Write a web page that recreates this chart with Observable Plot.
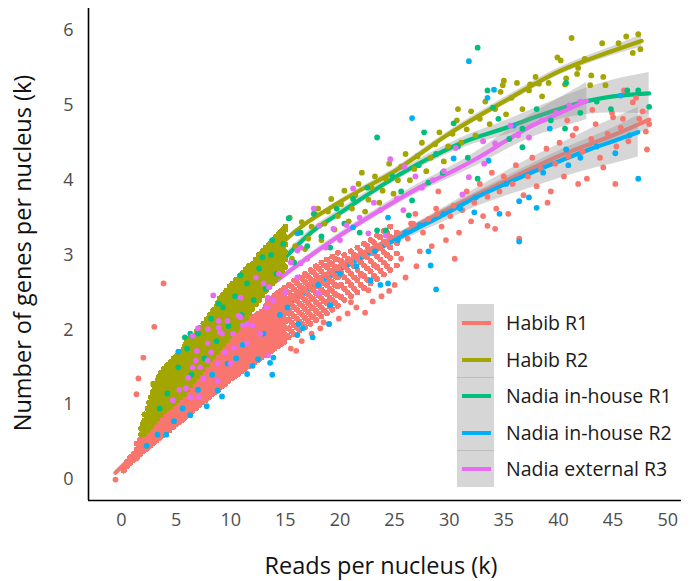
<!DOCTYPE html>
<html><head><meta charset="utf-8">
<script src="https://cdn.jsdelivr.net/npm/d3@7"></script>
<script src="https://cdn.jsdelivr.net/npm/@observablehq/plot@0.6"></script>
<style>
body{margin:0;background:#fff;font-family:"Open Sans",sans-serif;}
#wrap{position:relative;width:694px;height:581px;overflow:hidden;}
#wrap svg{position:absolute;left:0;top:0;}
.title{position:absolute;font-size:23.5px;line-height:1.1;color:#111;white-space:nowrap;}
#xtitle{left:381px;top:566px;transform:translate(-50%,-50%);}
#ytitle{left:23px;top:253px;transform:translate(-50%,-50%) rotate(-90deg);}
#legbox{position:absolute;left:457px;top:304px;width:37px;height:183px;background:#d6d6d6;}
.sep{position:absolute;left:457px;width:37px;height:1px;background:#bdbdbd;}
.key{position:absolute;left:462px;width:29px;height:4px;}
.lab{position:absolute;left:506px;font-size:19.5px;line-height:1.2;color:#1a1a1a;white-space:nowrap;transform:translateY(-50%);}
</style></head><body><div id="wrap"></div>
<script>
const series = ["Habib R1","Habib R2","Nadia in-house R1","Nadia in-house R2","Nadia external R3"];
const colors = ["#F8766D","#A3A500","#00BF7D","#00B0F6","#E76BF3"];
const xTicks = [0,5,10,15,20,25,30,35,40,45,50];
const yTicks = [0,1,2,3,4,5,6];

// ---- Habib R1 points (dense core by columns, then sparse points) ----
const habibR1Columns = [
[0.2,[0.12,0.17]],[0.5,[0.18,0.24]],[0.8,[0.22,0.3]],[1.1,[0.26,0.34]],[1.4,[0.3,0.4,0.48]],
[1.7,[0.34,0.44,0.53]],[2.0,[0.38,0.47,0.56,0.62]],[2.3,[0.41,0.51,0.61,0.68]],[2.6,[0.45,0.55,0.65,0.73]],
[2.9,[0.49,0.59,0.69,0.79]],[3.2,[0.52,0.62,0.72,0.82,0.88]],[3.5,[0.56,0.66,0.76,0.86,0.93]],
[3.8,[0.59,0.7,0.8,0.9,0.98]],[4.1,[0.63,0.73,0.83,0.93,1.02]],[4.4,[0.66,0.77,0.87,0.97,1.07]],
[4.7,[0.7,0.8,0.9,1.0,1.1]],[5.0,[0.74,0.84,0.94,1.04,1.14,1.2]],[5.3,[0.77,0.87,0.97,1.07,1.17,1.24]],
[5.6,[0.8,0.9,1.0,1.1,1.2,1.28]],[5.9,[0.84,0.94,1.04,1.14,1.24,1.33]],[6.2,[0.88,0.98,1.08,1.18,1.28,1.37]],
[6.5,[0.92,1.02,1.12,1.22,1.32,1.41]],[6.8,[0.95,1.05,1.15,1.25,1.35,1.45]],[7.1,[0.99,1.09,1.19,1.29,1.39,1.49]],
[7.4,[1.03,1.13,1.23,1.33,1.43,1.53]],[7.7,[1.06,1.16,1.26,1.36,1.46,1.56,1.62]],[8.0,[1.1,1.2,1.3,1.4,1.5,1.6,1.66]],
[8.3,[1.14,1.24,1.34,1.44,1.54,1.64,1.7]],[8.6,[1.17,1.27,1.37,1.47,1.57,1.67,1.75]],[8.9,[1.21,1.31,1.41,1.51,1.61,1.71,1.8]],
[9.2,[1.25,1.35,1.45,1.55,1.65,1.75,1.84]],[9.5,[1.28,1.38,1.48,1.58,1.68,1.78,1.88]],[9.8,[1.32,1.42,1.52,1.62,1.72,1.82,1.92]],
[10.1,[1.35,1.45,1.55,1.65,1.75,1.85,1.95]],[10.4,[1.38,1.48,1.58,1.68,1.78,1.88,1.98]],[10.7,[1.41,1.51,1.61,1.71,1.81,1.91,2.02]],
[11.0,[1.45,1.55,1.65,1.75,1.85,1.95,2.05]],[11.3,[1.48,1.58,1.68,1.78,1.88,1.98,2.08]],[11.6,[1.51,1.61,1.71,1.81,1.91,2.01,2.12]],
[11.9,[1.54,1.64,1.74,1.84,1.94,2.04,2.15]],[12.2,[1.57,1.67,1.77,1.87,1.97,2.07,2.18]],[12.5,[1.6,1.7,1.8,1.9,2.0,2.1,2.21]],
[12.8,[1.63,1.73,1.83,1.93,2.03,2.13,2.24]],[13.1,[1.66,1.76,1.86,1.96,2.06,2.16,2.27]],[13.4,[1.69,1.79,1.89,1.99,2.09,2.19,2.3,2.38]],
[13.7,[1.72,1.82,1.92,2.02,2.12,2.22,2.33,2.42]],[14.0,[1.75,1.85,1.95,2.05,2.15,2.25,2.36,2.46]],[14.3,[1.78,1.88,1.98,2.08,2.18,2.28,2.39,2.49]],
[14.6,[1.81,1.91,2.01,2.11,2.21,2.31,2.42,2.52]],[14.9,[1.84,1.94,2.04,2.14,2.24,2.34,2.45,2.56]],
[15.3,[1.9,2.02,2.14,2.26,2.38,2.5,2.6]],[15.8,[1.94,2.06,2.18,2.3,2.42,2.54,2.66]],[16.3,[1.99,2.11,2.23,2.35,2.47,2.59,2.7]],
[16.8,[2.04,2.16,2.28,2.4,2.52,2.64,2.75]],[17.3,[2.08,2.2,2.32,2.44,2.56,2.68,2.8]],[17.8,[2.13,2.25,2.37,2.49,2.61,2.73,2.85]],
[18.3,[2.18,2.3,2.42,2.54,2.66,2.78,2.9]],[18.8,[2.22,2.36,2.48,2.6,2.72,2.84,2.94]],[19.3,[2.27,2.4,2.52,2.64,2.76,2.88,2.98]],
[19.8,[2.32,2.46,2.58,2.7,2.82,2.94,3.03]],[20.4,[2.4,2.55,2.7,2.85,3.0]],[21.0,[2.45,2.6,2.75,2.9,3.05]],
[21.6,[2.5,2.66,2.8,2.95,3.1]],[22.2,[2.56,2.72,2.86,3.0,3.15]],[22.8,[2.62,2.78,2.92,3.06,3.2]],
[23.4,[2.68,2.84,2.98,3.12,3.26]],[24.0,[2.74,2.9,3.04,3.18,3.32]],[24.6,[2.8,2.96,3.1,3.24,3.38]],[25.2,[2.86,3.02,3.16,3.3]]
];
const habibR1ColumnsB = [
[1.55,[0.37,0.47]],[1.85,[0.41,0.51,0.6]],[2.15,[0.45,0.54,0.64]],[2.45,[0.48,0.58,0.68]],[2.75,[0.52,0.62,0.72]],
[3.05,[0.56,0.66,0.76,0.85]],[3.35,[0.59,0.69,0.79,0.89]],[3.65,[0.63,0.73,0.83,0.93]],[3.95,[0.66,0.76,0.86,0.96]],
[4.25,[0.7,0.8,0.9,1.0]],[4.55,[0.73,0.83,0.93,1.03]],[4.85,[0.77,0.87,0.97,1.07]],[5.15,[0.81,0.91,1.01,1.11,1.2]],
[5.45,[0.84,0.94,1.04,1.14,1.24]],[5.75,[0.87,0.97,1.07,1.17,1.27]],[6.05,[0.91,1.01,1.11,1.21,1.31]],
[6.35,[0.95,1.05,1.15,1.25,1.35]],[6.65,[0.99,1.09,1.19,1.29,1.39]],[6.95,[1.02,1.12,1.22,1.32,1.42]],
[7.25,[1.06,1.16,1.26,1.36,1.46]],[7.55,[1.1,1.2,1.3,1.4,1.5,1.58]],[7.85,[1.13,1.23,1.33,1.43,1.53,1.62]],
[8.15,[1.17,1.27,1.37,1.47,1.57,1.66]],[8.45,[1.21,1.31,1.41,1.51,1.61,1.7]],[8.75,[1.24,1.34,1.44,1.54,1.64,1.74]],
[9.05,[1.28,1.38,1.48,1.58,1.68,1.78]],[9.35,[1.32,1.42,1.52,1.62,1.72,1.82]],[9.65,[1.35,1.45,1.55,1.65,1.75,1.85]],
[9.95,[1.39,1.49,1.59,1.69,1.79,1.89]],[10.25,[1.42,1.52,1.62,1.72,1.82,1.92]],[10.55,[1.45,1.55,1.65,1.75,1.85,1.95]],
[10.85,[1.48,1.58,1.68,1.78,1.88,1.98]],[11.15,[1.52,1.62,1.72,1.82,1.92,2.02]],[11.45,[1.55,1.65,1.75,1.85,1.95,2.05]],
[11.75,[1.58,1.68,1.78,1.88,1.98,2.08]],[12.05,[1.61,1.71,1.81,1.91,2.01,2.11]],[12.35,[1.64,1.74,1.84,1.94,2.04,2.14]],
[12.65,[1.67,1.77,1.87,1.97,2.07,2.17]],[12.95,[1.7,1.8,1.9,2.0,2.1,2.2]],[13.25,[1.73,1.83,1.93,2.03,2.13,2.23,2.33]],
[13.55,[1.76,1.86,1.96,2.06,2.16,2.26,2.36]],[13.85,[1.79,1.89,1.99,2.09,2.19,2.29,2.39]],[14.15,[1.82,1.92,2.02,2.12,2.22,2.32,2.42]],
[14.45,[1.85,1.95,2.05,2.15,2.25,2.35,2.45]],[14.75,[1.88,1.98,2.08,2.18,2.28,2.38,2.48]],[15.1,[1.92,2.02,2.12,2.22,2.32,2.42,2.52]],
[15.55,[1.98,2.1,2.22,2.34,2.46,2.58]],[16.05,[2.03,2.15,2.27,2.39,2.51,2.63]],[16.55,[2.08,2.2,2.32,2.44,2.56,2.68]],
[17.05,[2.12,2.24,2.36,2.48,2.6,2.72]],[17.55,[2.17,2.29,2.41,2.53,2.65,2.77]],[18.05,[2.22,2.34,2.46,2.58,2.7,2.82]],
[18.55,[2.26,2.38,2.5,2.62,2.74,2.86]],[19.05,[2.31,2.43,2.55,2.67,2.79,2.9]],[19.55,[2.36,2.48,2.6,2.72,2.84,2.95]],
[20.1,[2.44,2.6,2.76,2.92]],[20.7,[2.5,2.65,2.8,2.95]],[21.3,[2.55,2.7,2.85,3.0]],[21.9,[2.6,2.75,2.9,3.05]],
[22.5,[2.67,2.82,2.97,3.12]],[23.1,[2.72,2.87,3.02,3.17]],[23.7,[2.79,2.94,3.09,3.24]],[24.3,[2.85,3.0,3.15,3.3]]
];
const habibR1Scatter = [
[-0.55,0.0],[1.37,0.28],[1.37,1.14],[1.55,1.35],[2.0,1.63],[3.0,2.04],[3.85,2.62],
[15.5,1.75],[16.0,1.72],[16.5,1.85],[17.4,1.95],[18.2,2.02],[18.5,2.1],[19.0,2.08],[19.9,2.15],[20.7,2.22],
[21.0,2.37],[21.5,2.3],[21.9,2.73],[22.3,2.23],[22.6,2.53],[23.0,2.38],[23.8,2.45],[24.5,2.52],[25.0,2.6],[26.0,2.7],
[25.6,2.95],[26.2,3.22],[26.5,3.42],[26.7,3.42],[26.9,3.55],[27.0,2.85],[27.3,3.05],[27.6,3.3],[28.1,3.48],[28.4,3.12],
[28.8,3.62],[28.9,3.55],[29.0,3.85],[29.3,3.38],[29.7,3.2],[30.1,3.52],[30.4,3.66],[30.5,2.95],[30.9,3.3],[31.2,3.6],
[31.6,3.85],[32.0,3.45],[32.3,3.7],[32.8,3.95],[33.1,3.52],[33.5,3.39],[33.5,3.78],[33.9,4.1],[34.2,3.35],[34.3,3.62],
[34.6,3.85],[35.0,4.05],[35.4,3.55],[35.8,3.95],[36.1,4.2],[36.4,3.22],[36.8,3.8],[37.2,4.05],[37.6,4.3],[38.0,3.92],
[38.4,4.15],[38.9,4.42],[39.0,3.7],[39.3,3.85],[39.7,4.22],[40.1,4.5],[40.5,4.05],[40.8,4.8],[40.9,4.32],[41.3,4.6],
[41.6,4.69],[41.8,3.95],[42.2,4.38],[42.6,4.02],[43.0,4.55],[43.1,4.94],[43.4,4.75],[43.8,4.3],[44.1,4.17],[44.5,4.62],
[44.9,4.9],[45.0,4.84],[45.2,3.95],[45.3,4.45],[45.7,4.7],[45.9,4.82],[46.0,5.2],[46.4,4.52],[46.8,5.04],[47.1,5.1],
[47.4,4.82],[47.7,4.92],[48.0,4.65],[48.1,4.41],[48.3,4.75]
];

// ---- Habib R2 points ----
const habibR2Columns = [
[1.8,[0.6,0.68]],[2.1,[0.61,0.7,0.79,0.87]],[2.4,[0.66,0.75,0.85,0.95]],[2.7,[0.71,0.81,0.91,1.01,1.1]],
[3.0,[0.77,0.87,0.97,1.07,1.17,1.25]],[3.3,[0.82,0.92,1.02,1.12,1.22,1.32]],[3.6,[0.86,0.96,1.06,1.16,1.26,1.36,1.42]],
[3.9,[0.91,1.01,1.11,1.21,1.31,1.41,1.48]],[4.2,[0.95,1.05,1.15,1.25,1.35,1.45,1.53]],[4.5,[0.98,1.08,1.18,1.28,1.38,1.48,1.57]],
[4.8,[1.02,1.12,1.22,1.32,1.42,1.52,1.62]],[5.1,[1.06,1.16,1.26,1.36,1.46,1.56,1.66]],[5.4,[1.1,1.2,1.3,1.4,1.5,1.6,1.7]],
[5.7,[1.14,1.24,1.34,1.44,1.54,1.64,1.74]],[6.0,[1.2,1.3,1.4,1.5,1.6,1.7,1.8,1.86]],[6.3,[1.26,1.36,1.46,1.56,1.66,1.76,1.86,1.9]],
[6.6,[1.32,1.42,1.52,1.62,1.72,1.82,1.92]],[6.9,[1.38,1.48,1.58,1.68,1.78,1.88,1.98]],[7.2,[1.43,1.53,1.63,1.73,1.83,1.93,2.03]],
[7.5,[1.48,1.58,1.68,1.78,1.88,1.98,2.08]],[7.8,[1.54,1.64,1.74,1.84,1.94,2.04,2.14]],[8.1,[1.6,1.7,1.8,1.9,2.0,2.1,2.2]],
[8.4,[1.65,1.75,1.85,1.95,2.05,2.15,2.26]],[8.7,[1.7,1.8,1.9,2.0,2.1,2.2,2.31]],[9.0,[1.76,1.86,1.96,2.06,2.16,2.26,2.36,2.42]],
[9.3,[1.81,1.91,2.01,2.11,2.21,2.31,2.41,2.47]],[9.6,[1.86,1.96,2.06,2.16,2.26,2.36,2.46,2.52]],[9.9,[1.92,2.02,2.12,2.22,2.32,2.42,2.52,2.58]],
[10.2,[1.96,2.06,2.16,2.26,2.36,2.46,2.56,2.62]],[10.5,[2.0,2.1,2.2,2.3,2.4,2.5,2.6,2.67]],[10.8,[2.05,2.15,2.25,2.35,2.45,2.55,2.65,2.72]],
[11.1,[2.1,2.2,2.3,2.4,2.5,2.6,2.7,2.76]],[11.4,[2.16,2.26,2.36,2.46,2.56,2.66,2.76,2.81]],[11.7,[2.22,2.32,2.42,2.52,2.62,2.72,2.82,2.86]],
[12.0,[2.28,2.38,2.48,2.58,2.68,2.78,2.88]],[12.3,[2.34,2.44,2.54,2.64,2.74,2.84,2.94]],[12.6,[2.4,2.5,2.6,2.7,2.8,2.9,3.0]],
[12.9,[2.46,2.56,2.66,2.76,2.86,2.96,3.05]],[13.2,[2.52,2.62,2.72,2.82,2.92,3.02,3.1]],[13.5,[2.57,2.67,2.77,2.87,2.97,3.07,3.14]],
[13.8,[2.62,2.72,2.82,2.92,3.02,3.12,3.19]],[14.1,[2.67,2.77,2.87,2.97,3.07,3.17,3.24]],[14.4,[2.72,2.82,2.92,3.02,3.12,3.22,3.28]],
[14.7,[2.78,2.88,2.98,3.08,3.18,3.28,3.33]],[15.0,[2.84,2.94,3.04,3.14,3.24,3.34,3.38]]
];
const habibR2ColumnsB = [
[1.95,[0.65,0.74]],[2.25,[0.69,0.78,0.87]],[2.55,[0.74,0.83,0.93,1.03]],[2.85,[0.79,0.89,0.99,1.09,1.17]],
[3.15,[0.85,0.95,1.05,1.15,1.25]],[3.45,[0.89,0.99,1.09,1.19,1.29,1.37]],[3.75,[0.94,1.04,1.14,1.24,1.34,1.43]],
[4.05,[0.98,1.08,1.18,1.28,1.38,1.48]],[4.35,[1.02,1.12,1.22,1.32,1.42,1.52]],[4.65,[1.05,1.15,1.25,1.35,1.45,1.55]],
[4.95,[1.09,1.19,1.29,1.39,1.49,1.59]],[5.25,[1.13,1.23,1.33,1.43,1.53,1.63]],[5.55,[1.17,1.27,1.37,1.47,1.57,1.67]],
[5.85,[1.22,1.32,1.42,1.52,1.62,1.72,1.8]],[6.15,[1.28,1.38,1.48,1.58,1.68,1.78,1.86]],[6.45,[1.34,1.44,1.54,1.64,1.74,1.84]],
[6.75,[1.4,1.5,1.6,1.7,1.8,1.9]],[7.05,[1.46,1.56,1.66,1.76,1.86,1.96]],[7.35,[1.51,1.61,1.71,1.81,1.91,2.01]],
[7.65,[1.56,1.66,1.76,1.86,1.96,2.06]],[7.95,[1.62,1.72,1.82,1.92,2.02,2.12]],[8.25,[1.68,1.78,1.88,1.98,2.08,2.18]],
[8.55,[1.73,1.83,1.93,2.03,2.13,2.23]],[8.85,[1.78,1.88,1.98,2.08,2.18,2.28,2.36]],[9.15,[1.84,1.94,2.04,2.14,2.24,2.34,2.42]],
[9.45,[1.89,1.99,2.09,2.19,2.29,2.39,2.47]],[9.75,[1.94,2.04,2.14,2.24,2.34,2.44,2.52]],[10.05,[1.99,2.09,2.19,2.29,2.39,2.49,2.57]],
[10.35,[2.03,2.13,2.23,2.33,2.43,2.53,2.62]],[10.65,[2.08,2.18,2.28,2.38,2.48,2.58,2.67]],[10.95,[2.13,2.23,2.33,2.43,2.53,2.63,2.72]],
[11.25,[2.18,2.28,2.38,2.48,2.58,2.68,2.76]],[11.55,[2.24,2.34,2.44,2.54,2.64,2.74,2.81]],[11.85,[2.3,2.4,2.5,2.6,2.7,2.8]],
[12.15,[2.36,2.46,2.56,2.66,2.76,2.86]],[12.45,[2.42,2.52,2.62,2.72,2.82,2.92]],[12.75,[2.48,2.58,2.68,2.78,2.88,2.98]],
[13.05,[2.54,2.64,2.74,2.84,2.94,3.04]],[13.35,[2.6,2.7,2.8,2.9,3.0,3.1]],[13.65,[2.65,2.75,2.85,2.95,3.05,3.15]],
[13.95,[2.7,2.8,2.9,3.0,3.1,3.2]],[14.25,[2.75,2.85,2.95,3.05,3.15,3.25]],[14.55,[2.8,2.9,3.0,3.1,3.2,3.3]],
[14.85,[2.86,2.96,3.06,3.16,3.26,3.35]]
];
const habibR2Scatter = [
[2.9,1.28],[15.4,3.5],[15.6,2.95],[15.9,3.12],[16.2,3.3],[16.5,3.44],[16.8,3.08],[17.1,3.22],[17.4,3.38],[17.7,3.55],
[18.0,3.62],[18.3,3.2],[18.6,3.42],[18.9,3.58],[19.2,3.75],[19.5,3.34],[19.8,3.52],[20.1,3.68],[20.4,3.86],[20.8,3.45],
[21.1,3.62],[21.4,3.8],[21.7,3.95],[22.0,4.1],[22.3,3.58],[22.6,3.74],[22.9,3.9],[23.2,4.05],[23.6,3.7],[23.9,3.86],
[24.2,4.02],[24.5,4.22],[24.9,3.82],[25.3,4.0],[25.6,4.18],[26.0,4.35],[26.4,4.0],[26.8,4.15],[27.1,4.32],[27.5,4.5],
[27.9,4.12],[28.3,4.3],[28.7,4.48],[29.1,4.64],[29.5,4.25],[29.9,4.45],[30.3,4.62],[30.7,4.8],[30.8,4.95],[31.1,4.5],
[31.6,4.68],[32.0,4.92],[32.4,4.6],[32.8,4.82],[33.3,5.05],[33.7,4.75],[34.2,4.95],[34.7,5.18],[34.9,5.27],[35.0,5.33],
[35.2,4.88],[35.7,5.1],[36.2,5.3],[36.7,4.95],[37.3,5.2],[37.4,5.28],[37.9,5.38],[38.2,5.29],[38.5,5.12],[39.1,5.3],
[39.9,5.64],[40.2,5.6],[40.6,5.28],[40.7,5.36],[41.2,5.9],[41.7,5.42],[41.8,5.5],[42.4,5.62],[42.9,5.27],[43.0,5.4],
[44.0,5.83],[44.1,5.38],[44.3,5.27],[45.5,5.83],[46.2,5.92],[46.8,5.7],[47.3,5.95],[47.5,5.75]
];

// ---- Nadia in-house R1 points ----
const nadiaInHouseR1 = [
[3.5,0.95],[4.2,1.15],[5.2,1.5],[5.8,1.9],[6.0,1.75],[6.3,1.95],[6.4,1.4],[7.0,1.95],[7.6,1.62],[8.2,2.15],
[8.7,1.85],[8.9,2.35],[9.3,2.3],[9.8,2.05],[10.4,2.45],[10.9,2.73],[11.0,2.2],[11.5,2.62],[12.1,2.4],[12.6,2.82],
[12.9,2.97],[13.2,2.55],[13.7,3.0],[13.8,3.2],[14.2,2.75],[14.8,3.15],[15.3,3.49],[15.8,2.9],[16.4,3.3],[17.0,3.12],
[17.6,3.55],[18.3,3.25],[19.1,3.1],[19.7,3.62],[20.4,3.42],[21.2,3.75],[21.8,3.3],[22.5,3.9],[23.4,4.57],[23.4,3.33],
[24.2,3.33],[24.8,4.05],[25.6,3.85],[26.3,3.53],[26.6,3.73],[27.2,4.2],[27.7,4.64],[28.1,3.97],[28.8,4.35],[29.4,4.1],
[30.4,4.76],[30.8,4.45],[31.7,4.3],[32.6,5.77],[32.6,4.02],[33.5,5.2],[34.0,4.97],[34.5,4.82],[35.5,4.55],[36.7,4.69],
[36.7,4.44],[38.0,4.95],[39.3,4.8],[40.6,4.69],[40.7,5.3],[42.0,4.9],[43.5,5.05],[44.8,4.95],[46.3,5.2],[47.3,5.2],[48.3,4.98]
];

// ---- Nadia in-house R2 points ----
const nadiaInHouseR2 = [
[2.3,0.45],[3.3,0.6],[4.1,0.6],[4.8,0.78],[5.2,1.71],[5.6,0.95],[6.3,0.86],[6.4,1.92],[7.0,1.2],[7.8,0.98],
[8.3,1.4],[8.8,1.19],[9.2,1.11],[9.7,1.55],[10.5,1.62],[11.1,1.8],[11.5,1.41],[12.0,1.52],[12.5,1.61],[13.0,1.95],
[13.6,1.56],[13.8,1.4],[13.9,1.63],[14.5,2.2],[15.2,2.3],[16.1,1.93],[16.1,3.29],[16.2,2.08],[16.6,2.02],[17.5,1.9],
[18.0,2.6],[19.0,2.08],[19.1,2.33],[20.0,2.75],[21.2,3.37],[21.5,2.85],[22.8,2.66],[23.2,3.05],[23.7,2.6],[24.4,2.62],
[24.4,3.5],[25.3,3.2],[26.0,3.3],[26.6,4.83],[27.3,3.4],[28.1,3.05],[28.3,2.86],[28.8,2.54],[29.5,3.55],[30.4,4.29],
[31.0,3.62],[31.8,5.59],[32.3,3.57],[32.4,3.77],[33.5,5.1],[33.6,4.26],[34.1,5.21],[34.6,3.55],[35.2,3.95],[35.9,4.73],
[36.4,3.72],[36.4,3.18],[37.3,3.77],[38.0,3.63],[38.6,4.1],[39.2,4.69],[40.7,4.41],[40.9,4.2],[42.0,4.3],[43.5,4.45],
[45.2,4.36],[45.7,5.13],[46.5,4.6],[47.3,4.02]
];

// ---- Nadia external R3 points ----
const nadiaExternalR3 = [
[4.7,1.06],[5.3,1.2],[5.9,1.22],[6.1,1.36],[6.3,1.1],[6.5,1.92],[6.5,1.5],[6.8,1.59],[6.9,1.72],[7.0,2.02],
[7.1,1.1],[7.2,1.5],[7.5,1.35],[7.9,2.01],[7.9,1.82],[7.9,1.59],[8.2,1.7],[8.4,2.46],[8.8,1.32],[8.8,1.55],
[8.9,2.03],[8.9,2.12],[9.0,1.97],[9.2,1.95],[9.5,1.7],[9.7,2.12],[10.0,1.55],[10.2,1.95],[10.3,1.76],[10.7,2.19],
[10.9,2.43],[10.9,2.17],[11.1,2.06],[11.5,1.82],[11.5,2.08],[12.0,2.06],[12.3,2.7],[12.7,1.95],[13.0,2.62],[13.3,2.3],
[13.4,2.43],[13.4,1.66],[13.5,2.57],[13.9,2.39],[14.4,2.75],[15.0,2.5],[15.5,2.9],[16.1,2.7],[16.1,3.06],[16.4,3.1],
[16.4,2.89],[17.0,2.95],[17.6,3.62],[18.0,2.49],[18.1,3.39],[18.7,3.1],[19.4,3.35],[20.0,3.2],[20.6,3.4],[21.2,3.89],
[21.8,3.5],[22.6,3.29],[23.1,3.7],[23.7,3.6],[24.2,3.26],[24.6,4.28],[25.2,3.75],[25.8,3.6],[25.9,4.18],[26.9,4.05],
[27.5,3.9],[28.5,4.0],[29.5,4.12],[30.6,4.43],[31.2,3.81],[31.8,4.04],[33.1,4.52],[33.2,4.22],[34.2,4.49],[35.6,4.73],
[36.3,4.6],[37.3,4.57],[38.5,4.8],[39.8,4.9],[41.0,5.0],[42.0,5.05]
];

// ---- Smoothed fits (x, fitted y, half-width of confidence band) ----
const fitHabibR1 = {x:[-0.55,2,5,7.5,10,12.5,15,20,25,30,35,40,45,48.3],
  y:[0.09,0.46,0.93,1.32,1.68,2.03,2.36,2.86,3.24,3.62,3.98,4.32,4.6,4.81],
  se:[0.03,0.02,0.01,0.01,0.01,0.01,0.02,0.02,0.03,0.04,0.05,0.07,0.1,0.13]};
const fitHabibR2 = {x:[1.8,2.5,3.5,5,7.5,10,12.5,15,20,25,30,35,40,45,47.6],
  y:[0.62,0.76,1.0,1.35,1.9,2.35,2.8,3.2,3.71,4.12,4.62,5.05,5.45,5.73,5.86],
  se:[0.03,0.02,0.01,0.01,0.01,0.01,0.01,0.02,0.03,0.04,0.04,0.05,0.05,0.06,0.08]};
const fitNadiaInHouseR1 = {x:[3,5,7.5,10,12.5,15,17.6,20,24.6,28,31,35.6,38,42.7,45,48.3],
  y:[0.9,1.3,1.8,2.22,2.6,2.97,3.33,3.56,4.0,4.28,4.49,4.72,4.85,5.06,5.12,5.16],
  se:[0.15,0.1,0.08,0.06,0.05,0.05,0.05,0.05,0.05,0.06,0.07,0.1,0.12,0.18,0.22,0.28]};
const fitNadiaInHouseR2 = {x:[2,5,7.5,10,12.5,15,17.5,20,23.5,26.7,29,32.2,35,37.5,40.2,43,45,47.3],
  y:[0.45,0.93,1.33,1.7,2.02,2.31,2.57,2.8,3.08,3.33,3.5,3.75,3.94,4.1,4.26,4.42,4.52,4.64],
  se:[0.1,0.06,0.05,0.04,0.04,0.04,0.04,0.04,0.05,0.07,0.09,0.12,0.16,0.2,0.23,0.27,0.3,0.33]};
const fitNadiaExternalR3 = {x:[4.5,6,8,10,12.5,14.6,17.6,20,23.7,27,31,33,35,37.2,40,42.6],
  y:[1.1,1.38,1.75,2.1,2.46,2.7,3.02,3.26,3.6,3.88,4.17,4.33,4.51,4.7,4.89,5.06],
  se:[0.08,0.05,0.04,0.03,0.03,0.03,0.04,0.04,0.05,0.06,0.08,0.1,0.12,0.15,0.2,0.25]};

// ---- build tables ----
const fromColumns = cols => cols.flatMap(([x, ys]) => ys.map(y => [x, y]));
const toRows = (g, arr) => arr.map(([x, y]) => ({group: g, x, y}));
const corePoints = [
  ...toRows(series[0], fromColumns(habibR1Columns).concat(fromColumns(habibR1ColumnsB))),
  ...toRows(series[1], fromColumns(habibR2Columns).concat(fromColumns(habibR2ColumnsB)))
];
const sparsePoints = [
  ...toRows(series[0], habibR1Scatter),
  ...toRows(series[1], habibR2Scatter),
  ...toRows(series[2], nadiaInHouseR1),
  ...toRows(series[3], nadiaInHouseR2),
  ...toRows(series[4], nadiaExternalR3)
];
const fits = [fitHabibR1, fitHabibR2, fitNadiaInHouseR1, fitNadiaInHouseR2, fitNadiaExternalR3];
const fitRows = fits.map((f, i) => f.x.map((x, j) => ({group: series[i], x, y: f.y[j], lo: f.y[j] - f.se[j], hi: f.y[j] + f.se[j]})));

const xDomain = [-3.02, 51.26];
const yDomain = [-0.28, 6.294];

const smoothMarks = fitRows.flatMap((rows, i) => [
  Plot.areaY(rows, {x: "x", y1: "lo", y2: "hi", fill: "#999999", fillOpacity: 0.4, curve: "monotone-x"}),
  Plot.line(rows, {x: "x", y: "y", stroke: colors[i], strokeWidth: 4.2, curve: "monotone-x"})
]);

const chart = Plot.plot({
  width: 694, height: 581,
  marginLeft: 88, marginRight: 13, marginTop: 8, marginBottom: 81,
  style: {fontFamily: "'Open Sans', sans-serif", background: "transparent"},
  x: {domain: xDomain},
  y: {domain: yDomain},
  color: {domain: series, range: colors},
  marks: [
    ...smoothMarks,
    Plot.dot(corePoints, {x: "x", y: "y", r: 3, fill: "group", stroke: "none", shapeRendering: "crispEdges"}),
    Plot.dot(sparsePoints, {x: "x", y: "y", r: 2.9, fill: "group", stroke: "none"}),
    Plot.ruleX([xDomain[0]], {stroke: "#000", strokeWidth: 1.6}),
    Plot.ruleY([yDomain[0]], {stroke: "#000", strokeWidth: 1.6}),
    Plot.axisX({ticks: xTicks, tickSize: 0, tickPadding: 13, fontSize: 18, fill: "#4d4d4d", label: null, tickFormat: d => String(d)}),
    Plot.axisY({ticks: yTicks, tickSize: 0, tickPadding: 15, fontSize: 18, fill: "#4d4d4d", label: null, tickFormat: d => String(d)})
  ]
});

const wrap = document.getElementById("wrap");
wrap.appendChild(chart);

// titles
const xt = document.createElement("div"); xt.className = "title"; xt.id = "xtitle"; xt.textContent = "Reads per nucleus (k)"; wrap.appendChild(xt);
const yt = document.createElement("div"); yt.className = "title"; yt.id = "ytitle"; yt.textContent = "Number of genes per nucleus (k)"; wrap.appendChild(yt);

// legend
const box = document.createElement("div"); box.id = "legbox"; wrap.appendChild(box);
[377, 450].forEach(t => { const s = document.createElement("div"); s.className = "sep"; s.style.top = t + "px"; wrap.appendChild(s); });
series.forEach((name, i) => {
  const cy = 323 + i * 36.5;
  const k = document.createElement("div"); k.className = "key"; k.style.top = (cy - 2) + "px"; k.style.background = colors[i]; wrap.appendChild(k);
  const l = document.createElement("div"); l.className = "lab"; l.style.top = cy + "px"; l.textContent = name; wrap.appendChild(l);
});
</script></body></html>
